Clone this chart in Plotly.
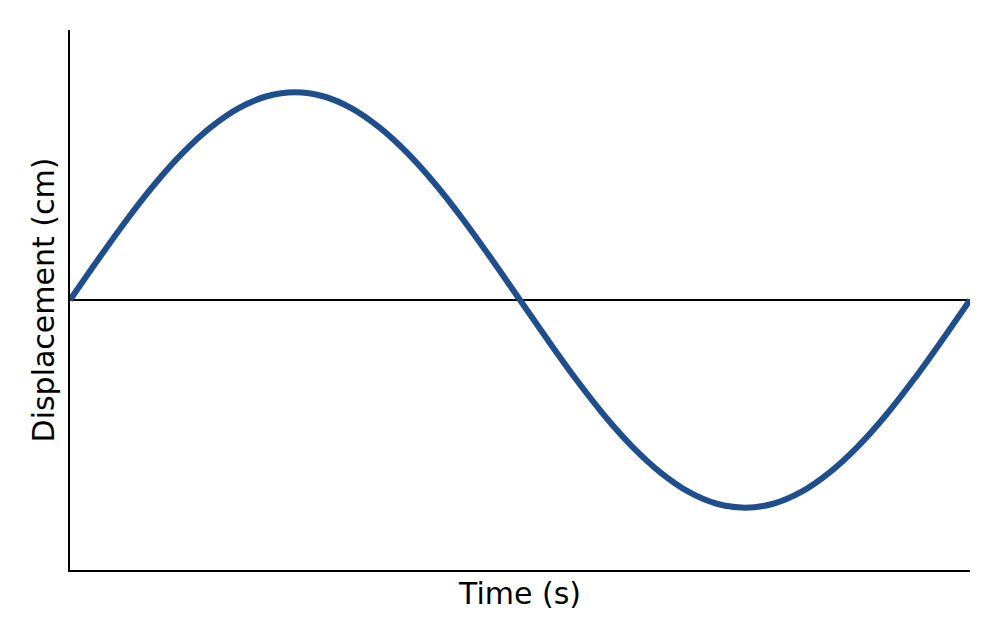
import plotly.graph_objects as go

# time samples (s) and displacement (cm)
time_s = [0, 0.125, 0.25, 0.375, 0.5, 0.625, 0.75, 0.875, 1.0,
          1.125, 1.25, 1.375, 1.5, 1.625, 1.75, 1.875, 2.0,
          2.125, 2.25, 2.375, 2.5, 2.625, 2.75, 2.875, 3.0,
          3.125, 3.25, 3.375, 3.5, 3.625, 3.75, 3.875, 4.0]
displacement_cm = [0, 0.195, 0.383, 0.556, 0.707, 0.831, 0.924, 0.981, 1.0,
                   0.981, 0.924, 0.831, 0.707, 0.556, 0.383, 0.195, 0,
                   -0.195, -0.383, -0.556, -0.707, -0.831, -0.924, -0.981, -1.0,
                   -0.981, -0.924, -0.831, -0.707, -0.556, -0.383, -0.195, 0]

fig = go.Figure()
fig.add_trace(go.Scatter(
    x=time_s, y=displacement_cm,
    mode="lines",
    line=dict(color="#1f4e8c", width=6, shape="spline", smoothing=1.0),
    hoverinfo="skip",
))

fig.update_layout(
    width=1000, height=640,
    margin=dict(l=62, r=38, t=22, b=78),
    paper_bgcolor="white", plot_bgcolor="white",
    showlegend=False,
    font=dict(family="DejaVu Sans", size=25, color="black"),
)
fig.update_xaxes(
    range=[0, 4], showticklabels=False, ticks="", showgrid=False,
    zeroline=False, showline=True, linecolor="black", linewidth=2,
    title=dict(text="Time (s)", standoff=12),
)
fig.update_yaxes(
    range=[-1.3, 1.3], showticklabels=False, ticks="", showgrid=False,
    zeroline=True, zerolinecolor="black", zerolinewidth=2,
    showline=True, linecolor="black", linewidth=2,
    title=dict(text="Displacement (cm)", standoff=5),
)

fig.write_html("out.html")
